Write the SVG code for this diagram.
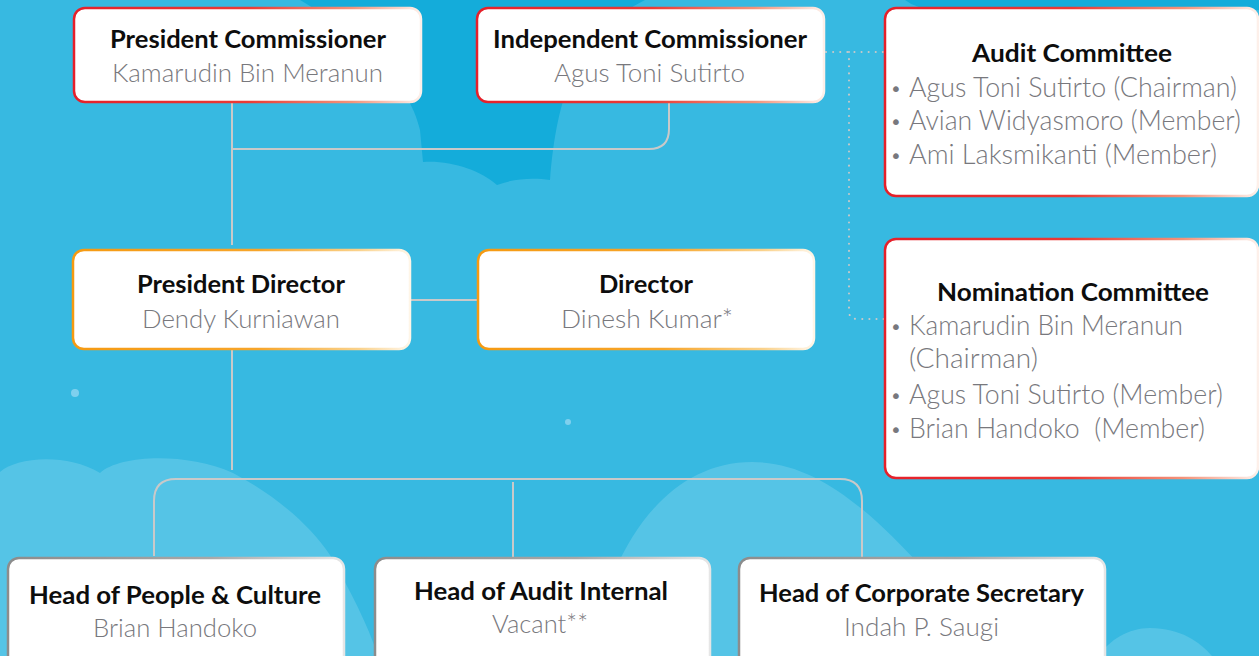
<svg xmlns="http://www.w3.org/2000/svg" width="1259" height="656" viewBox="0 0 1259 656">
  <defs>
    <linearGradient id="gRed" x1="0" y1="0" x2="1" y2="0">
      <stop offset="0" stop-color="#e5202a"/>
      <stop offset="0.5" stop-color="#ea3a35"/>
      <stop offset="0.8" stop-color="#f4937a"/>
      <stop offset="1" stop-color="#fdf0ea"/>
    </linearGradient>
    <linearGradient id="gOrange" x1="0" y1="0" x2="1" y2="0">
      <stop offset="0" stop-color="#f59a12"/>
      <stop offset="0.55" stop-color="#f7a52a"/>
      <stop offset="0.85" stop-color="#fad28c"/>
      <stop offset="1" stop-color="#fff6e8"/>
    </linearGradient>
    <linearGradient id="gGray" x1="0" y1="0" x2="1" y2="0">
      <stop offset="0" stop-color="#8c8c8c"/>
      <stop offset="0.6" stop-color="#a8a8a8"/>
      <stop offset="1" stop-color="#e6e6e6"/>
    </linearGradient>
    <style>
      .box { fill: #ffffff; stroke-width: 2.5; }
      .red { stroke: url(#gRed); }
      .orange { stroke: url(#gOrange); }
      .gray { stroke: url(#gGray); }
      .t { font-family: Lato, "Liberation Sans", sans-serif; font-weight: 700; font-size: 25px; fill: #0d0d0d; }
      .n { font-family: Lato, "Liberation Sans", sans-serif; font-weight: 300; font-size: 26px; fill: #78787d; }
      .m { font-family: Lato, "Liberation Sans", sans-serif; font-weight: 300; font-size: 27px; fill: #78787d; }
      .b { font-family: "DejaVu Sans", sans-serif; font-size: 20px; fill: #78787d; }
      .link { fill: none; stroke: #c9c9c9; stroke-width: 2; }
      .dot { fill: none; stroke: #c9c9c9; stroke-width: 2; stroke-dasharray: 0.1 7; stroke-linecap: round; }
    </style>
  </defs>

  <!-- sky background -->
  <rect x="0" y="0" width="1259" height="656" fill="#37b9e1"/>
  <path d="M300,0 C350,30 410,80 420,130 L423,162 C450,160 480,170 497,185 C515,178 535,178 550,180 C553,140 560,100 575,70 C590,40 615,15 645,0 Z" fill="#14acda"/>
  <path d="M905,0 Q915,8 935,10 L1259,10 L1259,0 Z" fill="#14acda"/>
  <!-- soft clouds near the bottom -->
  <path d="M0,472 C15,458 65,452 100,473 C120,455 185,452 233,473 C275,495 310,525 330,555 C350,590 368,625 378,656 L0,656 Z" fill="#55c4e6"/>
  <path d="M590,656 C610,540 670,462 752,462 C835,462 900,540 1000,656 Z" fill="#55c4e6"/>
  <path d="M1098,656 C1110,640 1128,628 1150,628 C1180,628 1200,642 1212,656 Z" fill="#55c4e6"/>
  <circle cx="75" cy="393" r="4" fill="#7fd0ee"/>
  <circle cx="568" cy="422" r="3" fill="#7fd0ee"/>

  <!-- connectors -->
  <g id="connectors">
    <path class="link" d="M232,102 V245"/>
    <path class="link" d="M232,149 H649 Q669,149 669,129 V101"/>
    <path class="link" d="M410,300 H478"/>
    <path class="link" d="M232,349 V470"/>
    <path class="link" d="M154,556 V501 Q154,479 176,479 H840 Q862,479 862,501 V564"/>
    <path class="link" d="M513,482 V564"/>
    <path class="dot" d="M826,52 H884"/>
    <path class="dot" d="M849,52 V311 Q849,319 857,319 H884"/>
  </g>

  <g id="president-commissioner">
    <rect class="box red" x="74" y="8" width="347" height="94" rx="11"/>
    <text class="t" x="110" y="48" textLength="276" lengthAdjust="spacingAndGlyphs">President Commissioner</text>
    <text class="n" x="112" y="82" textLength="271" lengthAdjust="spacingAndGlyphs">Kamarudin Bin Meranun</text>
  </g>

  <g id="independent-commissioner">
    <rect class="box red" x="477" y="8" width="347" height="94" rx="11"/>
    <text class="t" x="493" y="48" textLength="314" lengthAdjust="spacingAndGlyphs">Independent Commissioner</text>
    <text class="n" x="554" y="82" textLength="191" lengthAdjust="spacingAndGlyphs">Agus Toni Sutirto</text>
  </g>

  <g id="audit-committee">
    <rect class="box red" x="885" y="8" width="373" height="188" rx="11"/>
    <text class="t" x="972" y="62" textLength="200" lengthAdjust="spacingAndGlyphs">Audit Committee</text>
    <text class="b" x="890" y="96">•</text>
    <text class="m" x="909" y="97" textLength="328" lengthAdjust="spacingAndGlyphs">Agus Toni Sutirto (Chairman)</text>
    <text class="b" x="890" y="129">•</text>
    <text class="m" x="909" y="130" textLength="332" lengthAdjust="spacingAndGlyphs">Avian Widyasmoro (Member)</text>
    <text class="b" x="890" y="163">•</text>
    <text class="m" x="909" y="164" textLength="308" lengthAdjust="spacingAndGlyphs">Ami Laksmikanti (Member)</text>
  </g>

  <g id="nomination-committee">
    <rect class="box red" x="885" y="239" width="373" height="239" rx="11"/>
    <text class="t" x="937" y="301" textLength="272" lengthAdjust="spacingAndGlyphs">Nomination Committee</text>
    <text class="b" x="890" y="334">•</text>
    <text class="m" x="909" y="335" textLength="274" lengthAdjust="spacingAndGlyphs">Kamarudin Bin Meranun</text>
    <text class="m" x="909" y="368" textLength="129" lengthAdjust="spacingAndGlyphs">(Chairman)</text>
    <text class="b" x="890" y="403">•</text>
    <text class="m" x="909" y="404" textLength="314" lengthAdjust="spacingAndGlyphs">Agus Toni Sutirto (Member)</text>
    <text class="b" x="890" y="437">•</text>
    <text class="m" x="909" y="438" textLength="296" lengthAdjust="spacingAndGlyphs" xml:space="preserve">Brian Handoko  (Member)</text>
  </g>

  <g id="president-director">
    <rect class="box orange" x="73" y="250" width="337" height="99" rx="11"/>
    <text class="t" x="137" y="293" textLength="208" lengthAdjust="spacingAndGlyphs">President Director</text>
    <text class="n" x="142" y="328" textLength="198" lengthAdjust="spacingAndGlyphs">Dendy Kurniawan</text>
  </g>

  <g id="director">
    <rect class="box orange" x="478" y="250" width="336" height="99" rx="11"/>
    <text class="t" x="599" y="293" textLength="94" lengthAdjust="spacingAndGlyphs">Director</text>
    <text class="n" x="561" y="328" textLength="172" lengthAdjust="spacingAndGlyphs">Dinesh Kumar*</text>
  </g>

  <g id="head-people-culture">
    <rect class="box gray" x="8" y="558" width="336" height="120" rx="11"/>
    <text class="t" x="29" y="604" textLength="292" lengthAdjust="spacingAndGlyphs">Head of People &amp; Culture</text>
    <text class="n" x="93" y="637" textLength="164" lengthAdjust="spacingAndGlyphs">Brian Handoko</text>
  </g>

  <g id="head-audit-internal">
    <rect class="box gray" x="375" y="558" width="335" height="120" rx="11"/>
    <text class="t" x="414" y="600" textLength="254" lengthAdjust="spacingAndGlyphs">Head of Audit Internal</text>
    <text class="n" x="492" y="633" textLength="96" lengthAdjust="spacingAndGlyphs">Vacant**</text>
  </g>

  <g id="head-corporate-secretary">
    <rect class="box gray" x="739" y="558" width="366" height="120" rx="11"/>
    <text class="t" x="759" y="602" textLength="325" lengthAdjust="spacingAndGlyphs">Head of Corporate Secretary</text>
    <text class="n" x="844" y="636" textLength="155" lengthAdjust="spacingAndGlyphs">Indah P. Saugi</text>
  </g>
</svg>
